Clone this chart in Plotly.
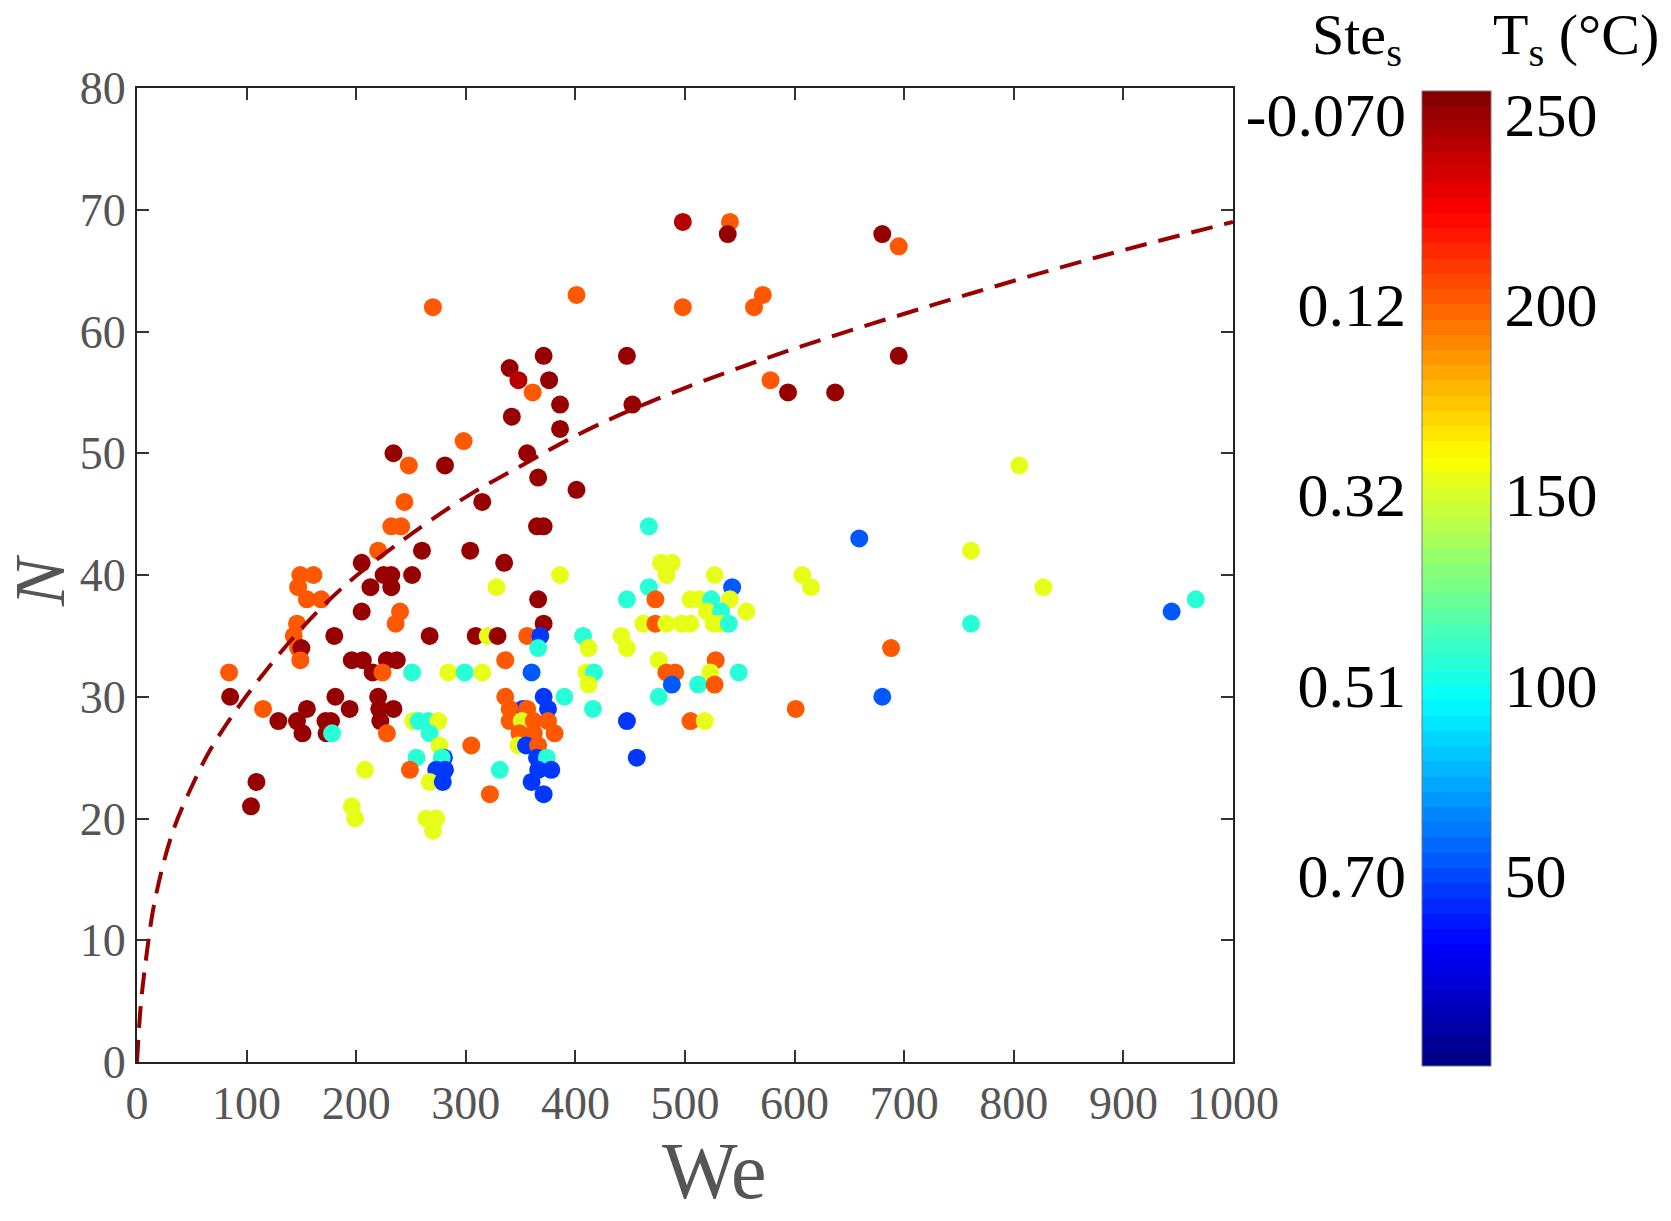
import plotly.graph_objects as go

# ---------------- data ----------------
# Ts classes (deg C) used for colouring the points
D, R, O, Y, C, B, L = 250, 242, 203, 152, 104, 45, 55

rows = {
    69: [(498, R), (541, O)],
    68: [(539, D), (680, D)],
    67: [(695, O)],
    63: [(401, O), (571, O)],
    62: [(270, O), (498, O), (563, O)],
    58: [(371, D), (447, D), (695, D)],
    57: [(340, D)],
    56: [(348, R), (376, D), (578, O)],
    55: [(361, O), (594, D), (637, D)],
    54: [(386, D), (452, D)],
    53: [(342, D)],
    52: [(386, D)],
    51: [(298, O)],
    50: [(234, D), (356, D)],
    49: [(248, O), (281, D), (805, Y)],
    48: [(366, D)],
    47: [(401, D)],
    46: [(244, O), (315, D)],
    44: [(232, O), (241, O), (365, D), (371, D), (467, C)],
    43: [(659, L)],
    42: [(220, O), (260, D), (304, D), (761, Y)],
    41: [(205, D), (335, D), (478, Y), (488, Y)],
    40: [(149, O), (161, O), (225, D), (232, D), (251, D), (386, Y), (483, Y), (527, Y), (607, Y)],
    39: [(147, O), (213, D), (232, D), (328, Y), (467, C), (543, L), (615, Y), (827, Y)],
    38: [(155, O), (168, O), (366, D), (447, C), (473, O), (505, Y), (513, Y), (524, C), (541, Y), (966, C)],
    37: [(205, D), (240, O), (520, Y), (533, C), (556, Y), (944, L)],
    36: [(146, O), (236, O), (371, D), (462, Y), (473, O), (483, Y), (497, Y), (505, Y), (526, Y),
         (533, Y), (540, C), (761, C)],
    35: [(143, O), (180, D), (267, D), (309, D), (320, Y), (329, D), (356, O), (368, B), (407, C), (442, Y)],
    34: [(147, O), (150, D), (366, C), (412, Y), (447, Y), (688, O)],
    33: [(149, O), (196, D), (206, D), (228, D), (237, D), (336, O), (476, Y), (528, O)],
    32: [(84, O), (215, D), (224, O), (251, C), (284, Y), (299, C), (315, Y), (360, L), (410, Y), (417, C),
         (483, O), (491, O), (523, Y), (549, C)],
    31: [(412, Y), (488, L), (512, C), (527, O)],
    30: [(85, D), (181, D), (220, D), (336, O), (371, B), (390, C), (476, C), (680, L)],
    29: [(115, O), (155, D), (194, D), (221, D), (234, D), (352, B), (340, O), (356, O), (375, B), (416, C), (601, O)],
    28: [(129, D), (146, D), (172, D), (177, D), (222, D), (252, Y), (257, C), (266, C), (275, Y), (340, O),
         (351, Y), (362, O), (375, O), (447, B), (505, O), (518, Y)],
    27: [(151, D), (173, D), (178, C), (228, O), (267, C), (349, O), (362, O), (381, O)],
    26: [(276, Y), (305, O), (348, Y), (355, B), (366, O)],
    25: [(255, C), (280, B), (278, C), (365, B), (374, C), (456, B)],
    24: [(208, Y), (249, O), (273, B), (281, B), (331, C), (366, B), (378, B)],
    23: [(109, D), (267, Y), (279, B), (360, B)],
    22: [(322, O), (371, B)],
    21: [(104, D), (196, Y)],
    20: [(199, Y), (264, Y), (273, Y)],
    19: [(270, Y)],
}

we = [w for k, pts in rows.items() for (w, t) in pts]
n_val = [k for k, pts in rows.items() for (w, t) in pts]
ts = [t for k, pts in rows.items() for (w, t) in pts]

# dashed fit curve
curve_we = [0, 3.3, 7.3, 16.4, 33, 54, 66.6, 82, 106, 146, 188, 240, 300, 349, 404, 465, 574, 727, 876, 1000]
curve_n = [0, 4.5, 7.8, 13.3, 19.0, 23.4, 25.6, 27.8, 30.8, 35.2, 39.0, 42.7, 46.4, 48.9, 51.6, 54.1, 57.8,
           62.2, 66.1, 69.0]

x_ticks = list(range(0, 1001, 100))
y_ticks = list(range(0, 81, 10))
ts_ticks = [250, 200, 150, 100, 50]
ts_labels = ["250", "200", "150", "100", "50"]
ste_labels = ["-0.070", "0.12", "0.32", "0.51", "0.70"]
ts_min, ts_max = 0, 256

# ---------------- styling ----------------
FONT = "Liberation Serif"
GRAY = "#555555"


def jet(v):
    def cl(a):
        return max(0.0, min(1.0, a))
    r = cl(1.5 - abs(4 * v - 3))
    g = cl(1.5 - abs(4 * v - 2))
    b = cl(1.5 - abs(4 * v - 1))
    return "rgb(%d,%d,%d)" % (round(r * 255), round(g * 255), round(b * 255))


steps = 64
jet_scale = []
for i in range(steps):
    c = jet((i + 0.5) / steps)
    jet_scale.append([i / steps, c])
    jet_scale.append([(i + 1) / steps, c])

W, H = 1671, 1221
ML, MR, MT, MB = 137, 5, 88, 155
PW, PH = W - ML - MR, H - MT - MB


def px(xpix):
    return (xpix - ML) / PW


def py(ypix):
    return (H - MB - ypix) / PH


fig = go.Figure()

fig.add_trace(go.Scatter(
    x=we, y=n_val, mode="markers",
    marker=dict(size=18, color=ts, colorscale=jet_scale, cmin=ts_min, cmax=ts_max,
                line=dict(width=0), opacity=1,
                colorbar=dict(
                    x=px(1422), xanchor="left", xpad=0,
                    y=0, yanchor="bottom", ypad=0,
                    len=py(91), lenmode="fraction",
                    thickness=69, thicknessmode="pixels",
                    tickvals=ts_ticks, ticktext=ts_labels, ticks="",
                    tickfont=dict(family=FONT, size=62, color="black"),
                    outlinewidth=1, outlinecolor="#777777",
                )),
    showlegend=False, hoverinfo="x+y",
))

fig.add_trace(go.Scatter(
    x=curve_we, y=curve_n, mode="lines", line_shape="spline",
    line=dict(color="#990000", width=4, dash="22px,12px"),
    showlegend=False, hoverinfo="skip",
))

# dummy trace hosting the Ste axis next to the colour bar
fig.add_trace(go.Scatter(x=[0], y=[128], xaxis="x2", yaxis="y2", mode="markers",
                         marker=dict(opacity=0), showlegend=False, hoverinfo="skip"))

axis_common = dict(
    ticks="inside", ticklen=12, tickwidth=1.5, tickcolor="#333333",
    showline=True, linecolor="#222222", linewidth=2, mirror="ticks",
    showgrid=False, zeroline=False, automargin=False,
    tickfont=dict(family=FONT, size=46, color=GRAY),
)

fig.update_layout(
    width=W, height=H,
    margin=dict(l=ML, r=MR, t=MT, b=MB, autoexpand=False),
    paper_bgcolor="white", plot_bgcolor="white",
    xaxis=dict(domain=[0, px(1233)], range=[0, 1000], tickvals=x_ticks, **axis_common),
    yaxis=dict(domain=[py(1062), 1], range=[0, 80], tickvals=y_ticks, **axis_common),
    xaxis2=dict(domain=[px(1412), px(1420)], visible=False, anchor="y2", range=[-1, 1]),
    yaxis2=dict(domain=[0, py(91)], range=[ts_min, ts_max], anchor="free", position=px(1406),
                side="left", showline=False, showgrid=False, zeroline=False, ticks="", automargin=False,
                tickvals=ts_ticks, ticktext=ste_labels,
                tickfont=dict(family=FONT, size=62, color="black")),
    annotations=[
        dict(text="We", x=px(714), y=py(1171), xref="paper", yref="paper", showarrow=False,
             font=dict(family=FONT, size=80, color=GRAY), xanchor="center", yanchor="middle"),
        dict(text="<i>N</i>", x=px(40), y=py(581), xref="paper", yref="paper", showarrow=False,
             textangle=-90, font=dict(family=FONT, size=72, color=GRAY), xanchor="center", yanchor="middle"),
        dict(text="Ste<sub>s</sub>", x=px(1357), y=py(39), xref="paper", yref="paper", showarrow=False,
             font=dict(family=FONT, size=58, color="black"), xanchor="center", yanchor="middle"),
        dict(text="T<sub>s</sub> (°C)", x=px(1576), y=py(39), xref="paper", yref="paper", showarrow=False,
             font=dict(family=FONT, size=58, color="black"), xanchor="center", yanchor="middle"),
    ],
)

fig.write_html("out.html")
